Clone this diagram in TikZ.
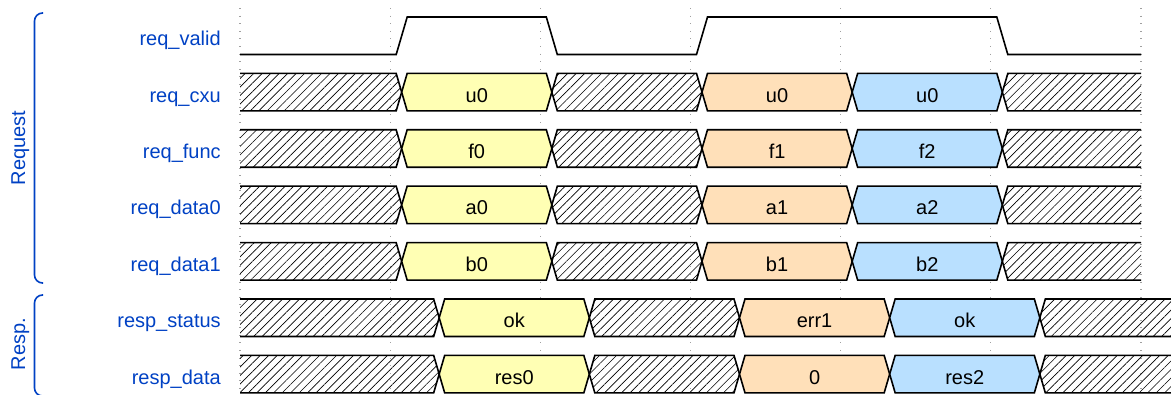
\documentclass[tikz,border=0pt]{standalone}
\usepackage{fontspec}
\setmainfont{Liberation Sans}
\usetikzlibrary{patterns.meta}
\definecolor{wdyel}{HTML}{FFFFB4}
\definecolor{wdora}{HTML}{FFE0B9}
\definecolor{wdblu}{HTML}{B9E0FF}
\definecolor{wdlbl}{HTML}{0041C4}
\definecolor{wdgrid}{HTML}{A0A0A0}
\tikzset{
  sig/.style={line width=1.2pt, line join=miter, black},
  hatch/.style={pattern={Lines[angle=45,distance=4.5pt,line width=0.5pt]}},
  yel/.style={fill=wdyel},
  ora/.style={fill=wdora},
  blu/.style={fill=wdblu},
  gridln/.style={wdgrid, line width=0.8pt, dash pattern=on 0.8pt off 4.9pt},
  lbl/.style={text=wdlbl, font=\fontsize{15}{18}\selectfont, anchor=base east, inner sep=0pt},
  val/.style={text=black, font=\fontsize{15}{18}\selectfont, anchor=base, inner sep=0pt},
  grp/.style={text=wdlbl, font=\fontsize{15}{18}\selectfont, rotate=90, anchor=base, inner sep=0pt},
  bracket/.style={wdlbl, line width=1.2pt, rounded corners=6pt},
}
% #1=T #2=C #3=B #4=left mid #5=right mid #6=fill style
\newcommand\segmid[6]{%
  \fill[#6] (#4,#2) -- ({#4+5.5},#1) -- ({#5-5.5},#1) -- (#5,#2) -- ({#5-5.5},#3) -- ({#4+5.5},#3) -- cycle;
  \draw[sig] (#4,#2) -- ({#4+5.5},#1) -- ({#5-5.5},#1) -- (#5,#2) -- ({#5-5.5},#3) -- ({#4+5.5},#3) -- cycle;}
% #1=T #2=C #3=B #4=right mid #5=fill style
\newcommand\segfirst[5]{%
  \fill[#5] (240,#1) -- ({#4-5.5},#1) -- (#4,#2) -- ({#4-5.5},#3) -- (240,#3) -- cycle;
  \draw[sig] (240,#1) -- ({#4-5.5},#1) -- (#4,#2) -- ({#4-5.5},#3) -- (240,#3);}
% #1=T #2=C #3=B #4=left mid #5=x end #6=fill style
\newcommand\seglast[6]{%
  \fill[#6] (#5,#1) -- ({#4+5.5},#1) -- (#4,#2) -- ({#4+5.5},#3) -- (#5,#3) -- cycle;
  \draw[sig] (#5,#1) -- ({#4+5.5},#1) -- (#4,#2) -- ({#4+5.5},#3) -- (#5,#3);}
\begin{document}
\begin{tikzpicture}[x=0.75pt,y=-0.75pt]
\useasboundingbox (0,0) rectangle (1171,395);
% grid lines
\foreach \k in {0,...,6}{
  \pgfmathsetmacro\gx{240+150.1667*\k}
  \draw[gridln] (\gx,8) -- (\gx,395);
}
% req_valid
\node[lbl] (lvalid) at (221,45.75) {req\_valid};
\draw[sig] (240,54.5) -- (396.2,54.5) -- (407.2,17) -- (546.3,17) -- (557.3,54.5)
  -- (696.5,54.5) -- (707.5,17) -- (996.8,17) -- (1007.8,54.5) -- (1141,54.5);
% bus rows
\foreach \i/\lab/\va/\vb/\vc/\off/\xend in {
  1/req\_cxu/u0/u0/u0/11.5/1141,
  2/req\_func/f0/f1/f2/11.5/1141,
  3/req\_data0/a0/a1/a2/11.5/1141,
  4/req\_data1/b0/b1/b2/11.5/1141,
  5/resp\_status/ok/err1/ok/49/1175,
  6/resp\_data/res0/0/res2/49/1175}{
  \pgfmathsetmacro\T{17+56.4*\i}
  \pgfmathsetmacro\B{\T+37.5}
  \pgfmathsetmacro\C{\T+18.75}
  \pgfmathsetmacro\ma{240+150.1667*1+\off}
  \pgfmathsetmacro\mb{240+150.1667*2+\off}
  \pgfmathsetmacro\mc{240+150.1667*3+\off}
  \pgfmathsetmacro\md{240+150.1667*4+\off}
  \pgfmathsetmacro\me{240+150.1667*5+\off}
  \segfirst{\T}{\C}{\B}{\ma}{hatch}
  \segmid{\T}{\C}{\B}{\ma}{\mb}{yel}
  \segmid{\T}{\C}{\B}{\mb}{\mc}{hatch}
  \segmid{\T}{\C}{\B}{\mc}{\md}{ora}
  \segmid{\T}{\C}{\B}{\md}{\me}{blu}
  \seglast{\T}{\C}{\B}{\me}{\xend}{hatch}
  \node[lbl] (l\i) at (221,{\C+10}) {\lab};
  \node[val] (va\i) at ({(\ma+\mb)/2},{\C+10}) {\va};
  \node[val] (vb\i) at ({(\mc+\md)/2},{\C+10}) {\vb};
  \node[val] (vc\i) at ({(\md+\me)/2},{\C+10}) {\vc};
}
% groups
\draw[bracket] (43,13) -- (34.5,13) -- (34.5,283) -- (43,283);
\node[grp] (greq) at (25,148) {Request};
\draw[bracket] (43,295) -- (34.5,295) -- (34.5,396) -- (43,396);
\node[grp] (gresp) at (25,344) {Resp.};
\end{tikzpicture}
\end{document}
